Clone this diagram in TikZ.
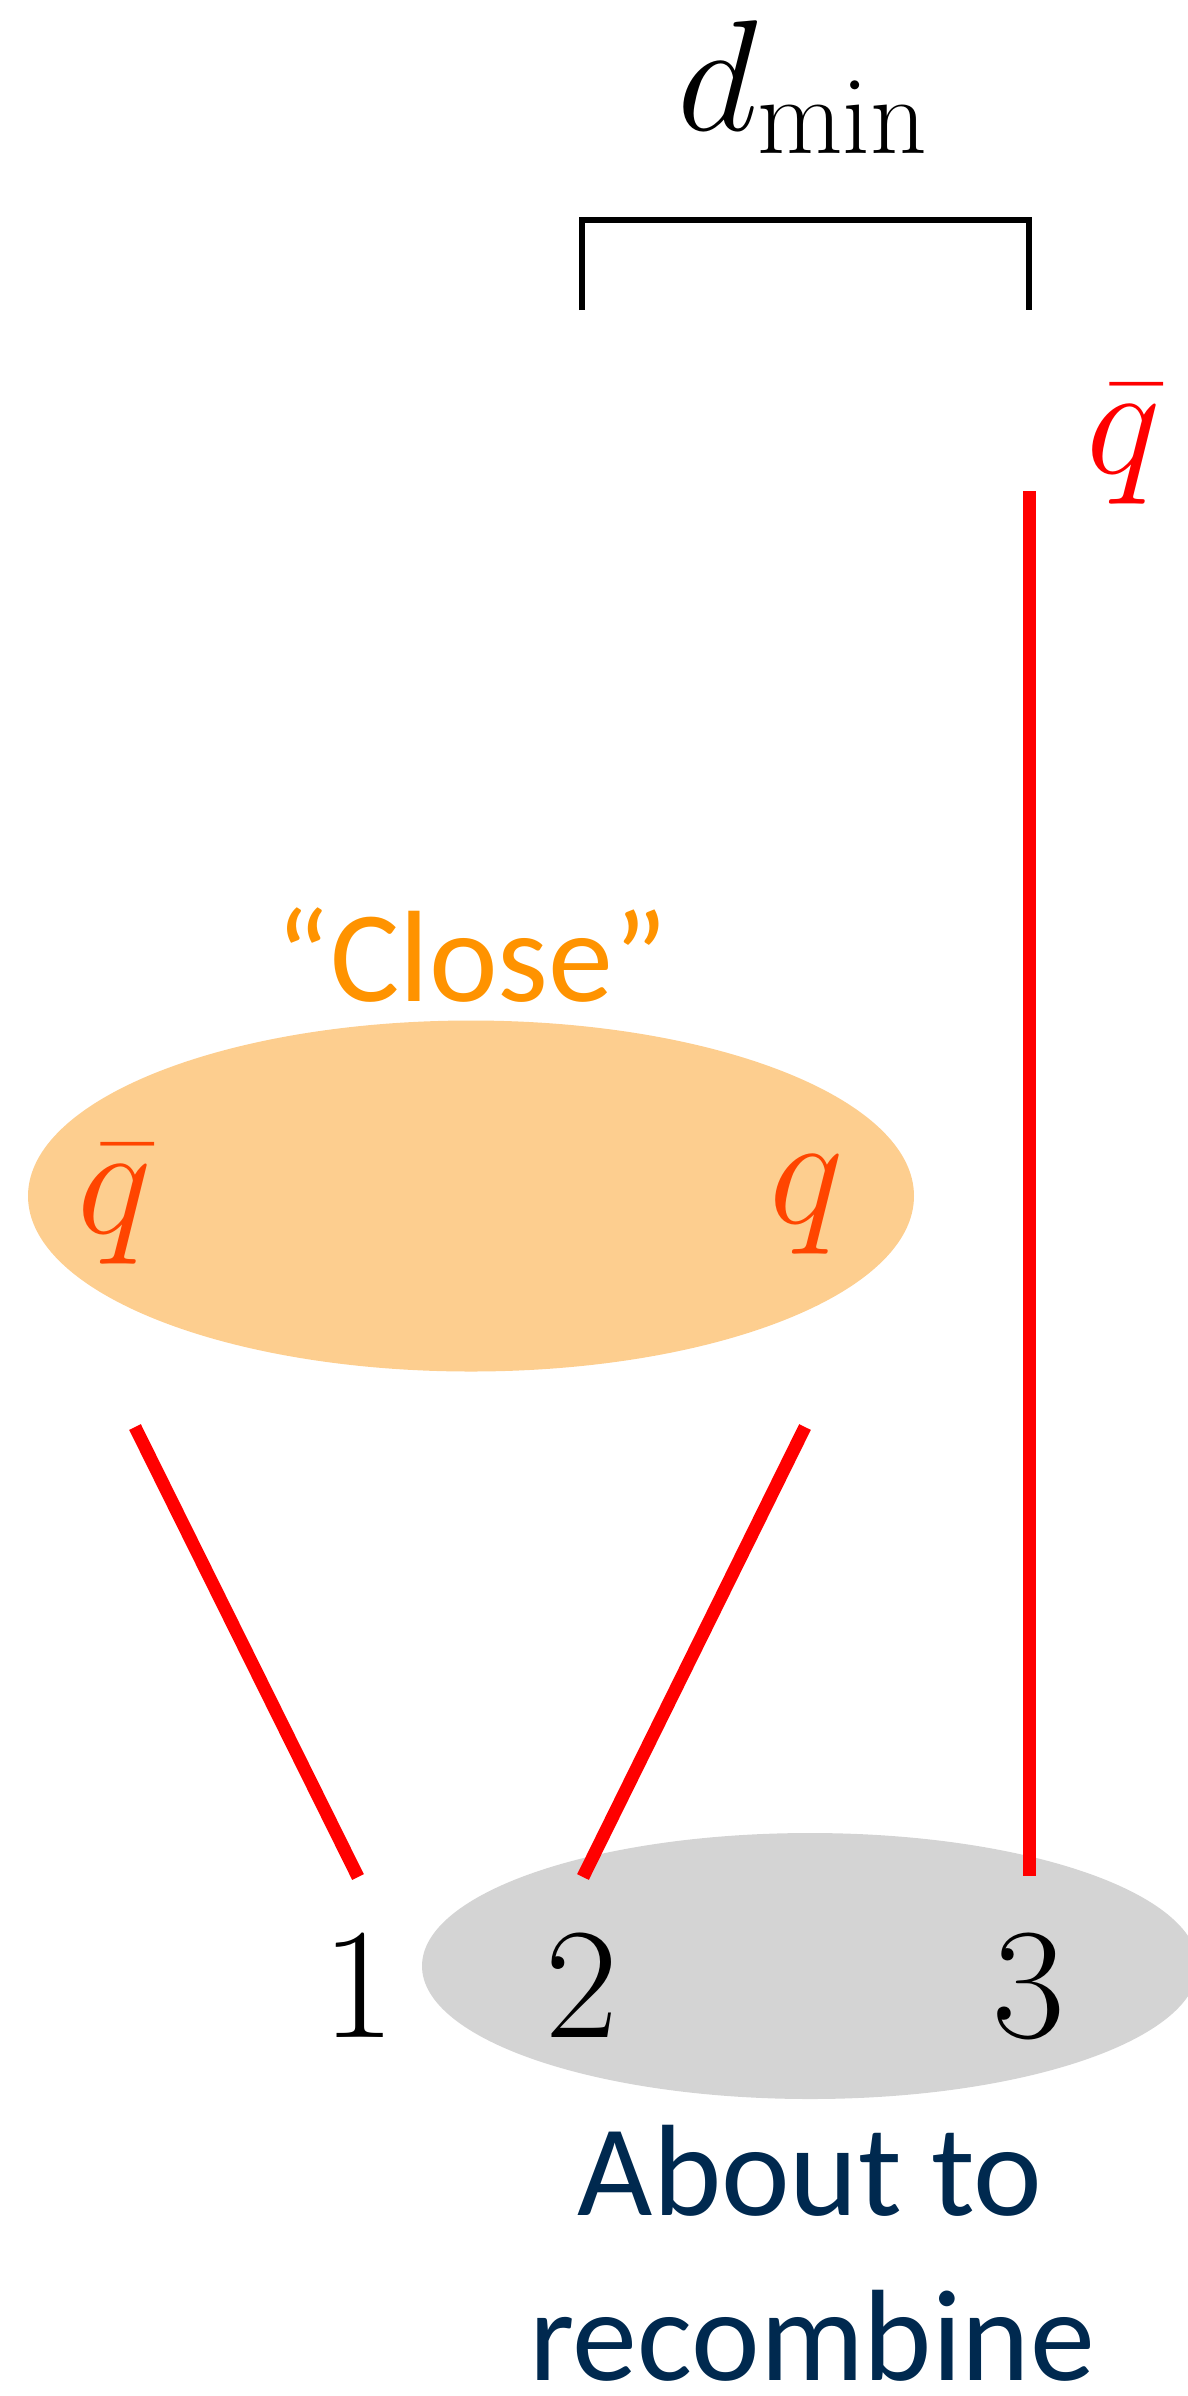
\RequirePackage{fix-cm}
\documentclass[tikz,border=0pt]{standalone}
\usepackage[no-math]{fontspec}
\setmainfont{Carlito}
\usepackage{xcolor}
\usetikzlibrary{shapes.geometric,positioning}

\begin{document}
\begin{tikzpicture}[
    x=0.1mm, y=-0.1mm,
    blob/.style={ellipse, draw=none, inner sep=0pt},
    qlab/.style={anchor=base, inner sep=0pt, font=\fontsize{45}{50}\selectfont},
    num/.style={anchor=base, inner sep=0pt, font=\fontsize{45}{50}\selectfont},
    word/.style={anchor=base, inner sep=0pt, font=\fontsize{37}{46}\selectfont},
    strand/.style={draw=red, line width=3.7pt},
  ]
  \definecolor{cClose}{HTML}{FDCE8F}\definecolor{cRecomb}{HTML}{D4D4D4}
  \definecolor{cQuark}{HTML}{FF4500}\definecolor{cOrange}{HTML}{FF9300}
  \definecolor{cNavy}{HTML}{00294F}

  \useasboundingbox (0,0) rectangle (1188,2396);

  % the two groups
  \node[blob, fill=cClose, minimum width=88.6mm, minimum height=35.1mm] (close) at (471,1196) {};
  \node[blob, fill=cRecomb, minimum width=77.6mm, minimum height=26.6mm] (recomb) at (810,1966) {};

  % labels
  \node[qlab] (dmin) at (803,130) {$d_{\min}$};
  \node[qlab, text=red] (qb3) at (1124,473) {$\bar{q}$};
  \node[word, text=cOrange] (closelab) at (472,1001) {``Close''};
  \node[qlab, text=cQuark] (qb1) at (115,1233) {$\bar{q}$};
  \node[qlab, text=cQuark] (q2) at (807,1223) {$q$};

  \node[num] (n1) at (359,2037) {$1$};
  \node[num] (n2) at (582,2037) {$2$};
  \node[num] (n3) at (1029,2037) {$3$};

  \node[word, text=cNavy] (about) at (810,2215) {About to};
  \node[word, text=cNavy] (recomblab) at (812,2380) {recombine};

  % distance bracket
  \coordinate (bl) at (582,310);
  \coordinate (br) at (1029,310);
  \draw[line width=1.7pt] (bl) |- (1029,220) -- (br);

  % strings
  \coordinate (s1a) at (135,1427); \coordinate (s1b) at (358,1877);
  \coordinate (s2a) at (805,1427); \coordinate (s2b) at (583,1877);
  \coordinate (s3a) at (1029,491); \coordinate (s3b) at (1029,1876);
  \draw[strand] (s1a) -- (s1b);
  \draw[strand] (s2a) -- (s2b);
  \draw[strand] (s3a) -- (s3b);
\end{tikzpicture}
\end{document}
